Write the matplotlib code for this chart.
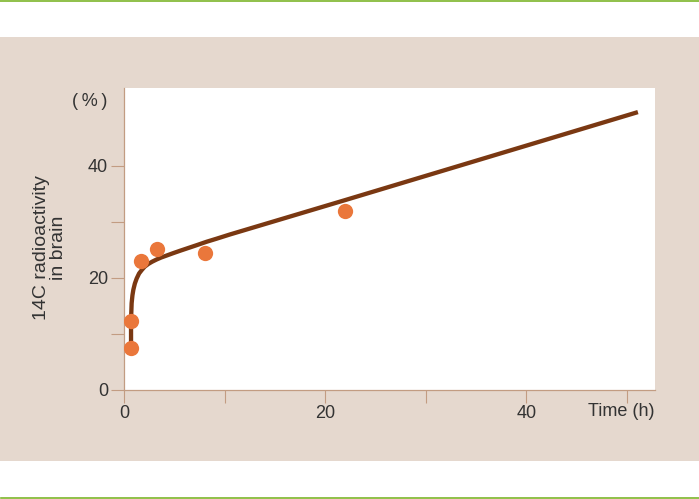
import matplotlib
matplotlib.use("Agg")
from matplotlib import pyplot as plt
from matplotlib.patches import Rectangle
from matplotlib.lines import Line2D

# measured points (hours, % of dose)
time_h = [0.7, 0.7, 1.7, 3.3, 8.1, 22.0]
activity = [7.5, 12.4, 23.1, 25.1, 24.5, 32.0]

# fitted curve
curve_t = [0.7, 0.7, 0.72, 0.76, 0.84, 0.93, 1.08, 1.26, 1.5, 1.76, 2.05, 2.42, 2.8, 3.25,
           3.7, 4.24, 4.9, 5.57, 6.4, 7.23, 8.2, 9.2, 10.5, 22.0, 51.1]
curve_y = [7.5, 11.0, 13.5, 15.5, 16.9, 17.9, 19.0, 19.9, 20.8, 21.4, 22.0, 22.5, 22.9, 23.3,
           23.65, 24.0, 24.43, 24.85, 25.35, 25.85, 26.45, 27.0, 27.74, 33.9, 49.6]

x_major = [0, 20, 40]
x_minor = [10, 30, 50]
y_major = [0, 20, 40]
y_minor = [10, 30]

beige = "#e5d8ce"
tan = "#c29c82"
green = "#7db52a"
brown = "#7a3812"
orange = "#ea773b"
txt = "#333333"

plt.rcParams['font.family'] = ['Liberation Sans', 'DejaVu Sans']

fig = plt.figure(figsize=(6.99, 4.99), dpi=100)
fig.patch.set_facecolor("white")
fig.patches.append(Rectangle((0, 1 - 461/499), 1, (461 - 37)/499, transform=fig.transFigure,
                             facecolor=beige, edgecolor="none", zorder=-5))
fig.lines.append(Line2D([0, 1], [1 - 0.8/499, 1 - 0.8/499], transform=fig.transFigure, color=green, lw=1.2))
fig.lines.append(Line2D([1/699, 1], [1 - 497.5/499, 1 - 497.5/499], transform=fig.transFigure, color=green, lw=1.2))

ax = fig.add_axes([124/699, 1 - 390/499, (655 - 124)/699, (390 - 88)/499])
ax.set_facecolor("white")
ax.plot(curve_t, curve_y, color=brown, lw=3.1, solid_capstyle="butt", solid_joinstyle="round", zorder=2)
ax.plot(time_h, activity, "o", color=orange, ms=11, mec="none", zorder=3)

ax.set_xlim(0, 52.8)
ax.set_ylim(0, 53.9)
ax.set_xticks(x_major)
ax.set_xticks(x_minor, minor=True)
ax.set_yticks(y_major)
ax.set_yticks(y_minor, minor=True)
ax.tick_params(which="both", direction="out", length=9.5, width=0.8, color=tan,
               labelsize=13, labelcolor=txt)
ax.tick_params(axis="y", which="both", pad=2)
ax.tick_params(axis="x", which="both", pad=1.5)
for s in ["top", "right"]:
    ax.spines[s].set_visible(False)
for s in ["left", "bottom"]:
    ax.spines[s].set_color(tan)
    ax.spines[s].set_linewidth(0.9)

fig.text(107/699, 1 - 101/499, "(\u2009%\u2009)", ha="right", va="center", fontsize=13, color=txt)
fig.text(655/699, 1 - 411/499, "Time (h)", ha="right", va="center", fontsize=13, color=txt)
fig.text(50/699, 1 - 248/499, "14C radioactivity\nin brain", rotation=90, ha="center", va="center",
         multialignment="center", fontsize=14, color=txt, linespacing=1.0)

fig.savefig("out.png", dpi=100, facecolor=fig.get_facecolor())
